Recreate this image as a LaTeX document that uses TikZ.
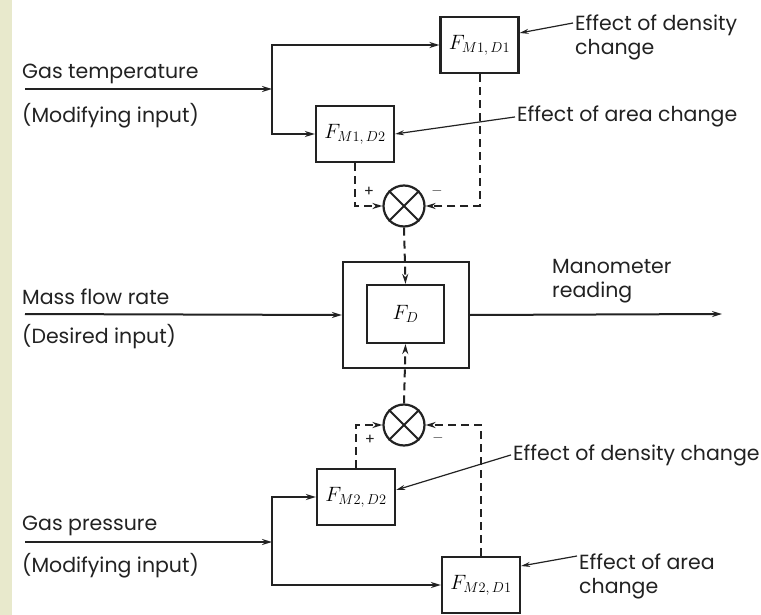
\documentclass[tikz,border=0pt]{standalone}
\usepackage{fontspec}
\setmainfont{Poppins}
\usetikzlibrary{arrows.meta}

\definecolor{strip}{RGB}{232,233,204}
\definecolor{ink}{RGB}{34,34,34}

\tikzset{
  blk/.style={draw=ink, line width=2.2pt, minimum width=78pt, minimum height=56pt, inner sep=0pt, font=\fontsize{21}{24}\selectfont},
  lbl/.style={text=ink, font=\fontsize{20.5}{24}\selectfont, inner sep=0pt, align=left},
  sgn/.style={text=ink, font=\fontsize{15}{16}\selectfont, inner sep=0pt},
  flow/.style={draw=ink, line width=2pt, -{Stealth[length=10pt,width=6pt]}},
  fb/.style={flow, dash pattern=on 8pt off 5pt},
  lead/.style={draw=ink, line width=1.2pt, -{Stealth[length=9pt,width=5pt]}},
  sumpt/.style={draw=ink, circle, line width=2.2pt, minimum size=41pt, inner sep=0pt},
}

\begin{document}
\begin{tikzpicture}[x=1pt, y=-1pt]
  \useasboundingbox (0,0) rectangle (761,615);
  \fill[white] (0,0) rectangle (761,615);
  \fill[strip] (0,0) rectangle (12,615);

  % blocks
  \node[blk] (m1d1) at (479.5,45) {$F_{M1,\,D1}$};
  \node[blk] (m1d2) at (355,134) {$F_{M1,\,D2}$};
  \node[sumpt] (sum1) at (404,206) {};
  \node[blk, minimum width=126pt, minimum height=106pt] (outer) at (406,315) {};
  \node[blk, minimum width=77pt, minimum height=58pt] (fd) at (405.5,314) {$F_{D}$};
  \node[sumpt] (sum2) at (404,425) {};
  \node[blk] (m2d2) at (356,497) {$F_{M2,\,D2}$};
  \node[blk] (m2d1) at (481,585) {$F_{M2,\,D1}$};

  \draw[ink, line width=2pt] (sum1.north west) -- (sum1.south east) (sum1.north east) -- (sum1.south west);
  \draw[ink, line width=2pt] (sum2.north west) -- (sum2.south east) (sum2.north east) -- (sum2.south west);

  % signs
  \node[sgn] (p1) at (369,192) {+};
  \node[sgn] (n1) at (437,191) {$-$};
  \node[sgn] (p2) at (370,440) {+};
  \node[sgn] (n2) at (438,438) {$-$};

  % inputs and output
  \coordinate (tin) at (25,89);
  \coordinate (tj) at (272,89);
  \coordinate (min) at (25,314);
  \coordinate (mout) at (722,314);
  \coordinate (pin) at (25,542);
  \coordinate (pj) at (272,542);

  \node[lbl, anchor=base west] (tlab) at (22,79) {Gas temperature};
  \node[lbl, anchor=base west] (tmod) at (22,123) {(Modifying input)};
  \node[lbl, anchor=base west] (mlab) at (22,304) {Mass flow rate};
  \node[lbl, anchor=base west] (mdes) at (22,343) {(Desired input)};
  \node[lbl, anchor=base west] (plab) at (22,530) {Gas pressure};
  \node[lbl, anchor=base west] (pmod) at (22,572) {(Modifying input)};
  \node[lbl, anchor=north west] (olab) at (552,259) {Manometer\\reading};

  \node[lbl, anchor=north west] (e1) at (575,15) {Effect of density\\change};
  \node[lbl, anchor=base west] (e2) at (517,122) {Effect of area change};
  \node[lbl, anchor=base west] (e3) at (513,460) {Effect of density change};
  \node[lbl, anchor=north west] (e4) at (579,554) {Effect of area\\change};

  \draw[flow] (tin) -- (tj);
  \draw[flow] (tj) |- (m1d1.west);
  \draw[flow] (tj) |- (m1d2.west);
  \draw[fb] (m1d2.south) |- (sum1.west);
  \draw[fb] (m1d1.south) |- (sum1.east);
  \draw[fb] (sum1.south) -- (fd.north);

  \draw[flow] (min) -- (outer.west);
  \draw[flow] (outer.east) -- (mout);

  \draw[fb] (sum2.north) -- (fd.south);
  \draw[fb] (m2d2.north) |- (sum2.west);
  \draw[fb] (m2d1.north) |- (sum2.east);
  \draw[flow] (pin) -- (pj);
  \draw[flow] (pj) |- (m2d2.west);
  \draw[flow] (pj) |- (m2d1.west);

  % leaders
  \draw[lead] ([xshift=-2pt,yshift=-8pt]e1.north west) -- ([yshift=12pt]m1d1.east);
  \draw[lead] ([xshift=-2pt]e2.west) -- (m1d2.east);
  \draw[lead] ([xshift=-2pt]e3.west) -- ([yshift=7pt]m2d2.east);
  \draw[lead] ([xshift=-2pt,yshift=-2pt]e4.north west) -- ([yshift=19pt]m2d1.east);
\end{tikzpicture}
\end{document}
